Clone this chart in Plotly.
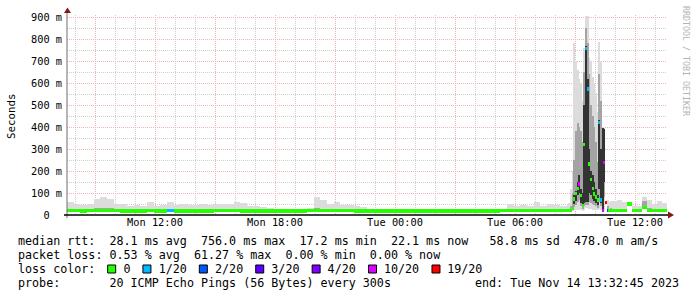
import plotly.graph_objects as go

# ---------------- data ----------------
# time axis in hours since Mon Nov 13 2023 00:00
t_start, t_end = 7.6, 37.6
tick_hours = [9, 12, 15, 18, 21, 24, 27, 30, 33, 36]
tick_labels = ["", "Mon 12:00", "", "Mon 18:00", "", "Tue 00:00", "", "Tue 06:00", "", "Tue 12:00"]
y_ticks = [0, 100, 200, 300, 400, 500, 600, 700, 800, 900]
y_labels = ["0\u00a0\u00a0", "100 m", "200 m", "300 m", "400 m", "500 m", "600 m", "700 m", "800 m", "900 m"]
y_title = "Seconds"

# baseline: 20-minute bins from Mon 07:36 to Tue 08:36 (values in ms)
base_median = [19, 19, 18, 19, 20, 20, 19, 19, 18, 18, 18, 18, 19, 18, 18, 19, 18, 18, 18, 18,
               18, 18, 19, 19, 19, 19, 18, 18, 18, 18, 18, 18, 18, 18, 18, 18, 19, 21, 20, 19,
               19, 19, 19, 18, 18, 18, 18, 18, 18, 18, 18, 18, 18, 18, 18, 18, 18, 18, 18, 18,
               18, 18, 18, 18, 18, 19, 19, 19, 19, 19, 19, 19, 19, 19, 19]
base_q3 = [27, 26, 25, 26, 31, 33, 30, 26, 25, 24, 24, 24, 26, 24, 24, 28, 24, 25, 24, 24,
           25, 24, 26, 26, 26, 28, 28, 24, 23, 22, 21, 20, 20, 20, 20, 20, 22, 31, 28, 26,
           26, 24, 24, 22, 21, 20, 20, 20, 20, 20, 20, 20, 20, 20, 20, 20, 20, 20, 20, 20,
           20, 20, 20, 20, 20, 21, 24, 23, 24, 23, 26, 23, 24, 24, 23]
base_hi = [58, 50, 46, 52, 75, 82, 74, 52, 50, 42, 44, 40, 58, 42, 44, 58, 46, 50, 46, 44,
           50, 46, 52, 50, 52, 58, 56, 42, 40, 38, 34, 28, 27, 27, 29, 27, 32, 82, 66, 52,
           58, 47, 45, 40, 36, 27, 25, 27, 24, 26, 24, 23, 24, 26, 23, 24, 23, 24, 26, 23,
           23, 28, 24, 23, 26, 28, 48, 42, 46, 42, 58, 42, 48, 45, 42]
base_loss = [0] * 15 + [1] + [0] * 59

# disturbance: 5-minute steps from Tue 08:36 to Tue 10:51
spike_lo = [17, 17, 17, 18, 20, 22, 24, 24, 22, 20, 25, 30, 30, 28, 26, 25, 24, 23, 22, 28,
            25, 18, 20, 50, 17, 17, 17]
spike_q1 = [18, 18, 19, 22, 35, 45, 60, 70, 40, 28, 40, 45, 45, 60, 55, 50, 45, 40, 32, 60,
            40, 19, 80, 52, 18, 18, 18]
spike_core_lo = [18, 19, 20, 25, 50, 65, 90, 100, 55, 35, 55, 60, 60, 100, 90, 75, 65, 55, 45, 120,
                 55, 20, 150, 54, 19, 19, 19]
spike_core_hi = [20, 21, 24, 35, 90, 110, 150, 180, 120, 100, 500, 770, 620, 300, 200, 180, 150, 120, 90, 430,
                 300, 395, 390, 58, 24, 21, 21]
spike_q3 = [26, 28, 40, 100, 250, 380, 420, 400, 380, 330, 650, 850, 780, 640, 500, 450, 400, 330, 240, 640,
            520, 395, 390, 60, 40, 28, 30]
spike_hi = [50, 55, 120, 200, 780, 700, 660, 620, 600, 520, 760, 905, 905, 714, 700, 627, 600, 554, 470, 786,
            700, 400, 395, 62, 68, 60, 62]
spike_median = [19, 20, 22, 30, 73, 98, 120, 141, 90, 42, 320, 756, 573, 232, 160, 122, 95, 82, 68, 420,
                68, 20, 238, 56, 20, 21, 20]
spike_loss = [0, 0, 0, 0, 0, 0, 0, 10, 0, 0, 0, 1, 1, 0, 0, 0, 0, 0, 0, 1,
              1, 10, 10, 19, 2, 0, 0]

# tail: 15-minute bins from Tue 10:51 to Tue 13:36
tail_median = [20, 20, 20, 50, 20, 19, 35, 20, 20, 20, 20]
tail_q3 = [27, 28, 26, 55, 24, 23, 62, 30, 25, 27, 25]
tail_hi = [62, 66, 58, 58, 42, 40, 83, 66, 52, 64, 56]
tail_loss = [0] * 11

loss_levels = ["0", "1/20", "2/20", "3/20", "4/20", "10/20", "19/20"]
loss_values = [0, 1, 2, 3, 4, 10, 19]
loss_colors = ["#26ff00", "#00b8ff", "#0059ff", "#5e00ff", "#7e00ff", "#dd00ff", "#ff0000"]

stats_rows = [
    "median rtt:  28.1 ms avg  756.0 ms max  17.2 ms min  22.1 ms now   58.8 ms sd  478.0 m am/s",
    "packet loss: 0.53 % avg  61.27 % max  0.00 % min  0.00 % now",
]
probe_text = "probe:       20 ICMP Echo Pings (56 Bytes) every 300s"
end_text = "end: Tue Nov 14 13:32:45 2023"

# ---------------- assemble bins ----------------
nb, ns, nt = len(base_median), len(spike_median), len(tail_median)
w_b, w_s, w_t = 1 / 3, 1 / 12, 1 / 4
t_b0 = t_start
t_s0 = t_b0 + nb * w_b
t_t0 = t_s0 + ns * w_s
centers = ([t_b0 + (k + 0.5) * w_b for k in range(nb)] +
           [t_s0 + (k + 0.5) * w_s for k in range(ns)] +
           [t_t0 + (k + 0.5) * w_t for k in range(nt)])
widths = [w_b] * nb + [w_s] * ns + [w_t] * nt

median = base_median + spike_median + tail_median
lo = base_median + spike_lo + tail_median
q1 = base_median + spike_q1 + tail_median
core_lo = base_median + spike_core_lo + tail_median
core_hi = base_median + spike_core_hi + tail_median
q3 = base_q3 + spike_q3 + tail_q3
hi = base_hi + spike_hi + tail_hi
loss = base_loss + spike_loss + tail_loss
color_of = dict(zip(loss_values, loss_colors))

fig = go.Figure()


def band(bottom, top, color):
    fig.add_trace(go.Bar(
        x=centers, base=bottom, y=[b - a for a, b in zip(bottom, top)], width=widths,
        marker=dict(color=color, line=dict(width=0)), hoverinfo="skip"))


band(lo, hi, "#dcdcdc")
band(q1, q3, "#a4a4a4")
band(core_lo, core_hi, "#333333")

half = 7.5
fig.add_trace(go.Bar(
    x=centers, base=[m - half for m in median], y=[2 * half] * len(median), width=widths,
    marker=dict(color=[color_of[v] for v in loss], line=dict(width=0)), hoverinfo="skip"))

# ---------------- layout ----------------
L, R, T, B = 67, 30, 15, 82
W, H = 697, 297
pw, ph = W - L - R, H - T - B
y_max = 900 * ph / 198.0

major_grid = "rgb(238,180,180)"
minor_grid = "rgb(208,208,208)"
mono = "DejaVu Sans Mono"

fig.update_layout(
    width=W, height=H, margin=dict(l=L, r=R, t=T, b=B, pad=0),
    paper_bgcolor="white", plot_bgcolor="white",
    barmode="overlay", bargap=0, showlegend=False,
    font=dict(family=mono, size=10.3, color="black"),
)
fig.update_xaxes(
    range=[t_start, t_end], tickmode="array", tickvals=tick_hours, ticktext=tick_labels,
    showgrid=True, gridcolor=major_grid, griddash="1px,1px", gridwidth=1,
    ticks="", zeroline=False, showline=False, tickfont=dict(size=10.3),
    minor=dict(dtick=1, tick0=0, showgrid=True, gridcolor=minor_grid, griddash="1px,1px", ticks=""),
)
fig.update_yaxes(
    range=[0, y_max], tickmode="array", tickvals=y_ticks, ticktext=y_labels,
    showgrid=True, gridcolor=major_grid, griddash="1px,1px", gridwidth=1,
    ticks="", zeroline=False, showline=False, tickfont=dict(size=10.3),
    ticklabelstandoff=4,
    minor=dict(dtick=50, tick0=0, showgrid=True, gridcolor=minor_grid, griddash="1px,1px", ticks=""),
)


def px(xp):
    return (xp - L) / pw


def py(yp):
    return (H - B - yp) / ph


shapes = [
    dict(type="line", xref="paper", yref="paper", x0=px(67), x1=px(67), y0=py(218), y1=py(10),
         line=dict(color="#6e6e6e", width=1)),
    dict(type="line", xref="paper", yref="paper", x0=px(64), x1=px(669), y0=py(215), y1=py(215),
         line=dict(color="black", width=1.5)),
    dict(type="path", xref="paper", yref="paper",
         path=f"M {px(67.5)} {py(7.5)} L {px(64)} {py(13)} L {px(71)} {py(13)} Z",
         fillcolor="#8b1414", line=dict(width=0)),
    dict(type="path", xref="paper", yref="paper",
         path=f"M {px(674)} {py(215)} L {px(668)} {py(211.5)} L {px(668)} {py(218.5)} Z",
         fillcolor="#8b1414", line=dict(width=0)),
]

# legend
charw = 7.05
text_x0 = 16
fsize = 11.7
annotations = []
row_y = [241, 255, 269, 283]
for r, txt in enumerate(stats_rows):
    annotations.append(dict(text=txt.replace(" ", "\u00a0"), x=px(text_x0), y=py(row_y[r]),
                            xref="paper", yref="paper",
                            xanchor="left", yanchor="middle", showarrow=False,
                            font=dict(family=mono, size=fsize, color="black")))

# loss colour row
row = "loss color:  "
box_cols = []
for lab in loss_levels:
    box_cols.append(len(row))
    row += "  " + lab + "  "
annotations.append(dict(text=row.rstrip().replace(" ", "\u00a0"), x=px(text_x0), y=py(row_y[2]),
                        xref="paper", yref="paper", xanchor="left", yanchor="middle", showarrow=False,
                        font=dict(family=mono, size=fsize, color="black")))
for col, c in zip(box_cols, loss_colors):
    cx = text_x0 + col * charw + charw / 2 + 0.5
    shapes.append(dict(type="rect", xref="paper", yref="paper",
                       x0=px(cx - 4), x1=px(cx + 4), y0=py(row_y[2] + 4), y1=py(row_y[2] - 4),
                       fillcolor=c, line=dict(color="black", width=1)))

annotations.append(dict(text=probe_text.replace(" ", "\u00a0"), x=px(text_x0), y=py(row_y[3]),
                        xref="paper", yref="paper", xanchor="left", yanchor="middle", showarrow=False,
                        font=dict(family=mono, size=fsize, color="black")))
annotations.append(dict(text=end_text, x=px(681), y=py(row_y[3]),
                        xref="paper", yref="paper", xanchor="right", yanchor="middle", showarrow=False,
                        font=dict(family=mono, size=fsize, color="black")))
annotations.append(dict(text="RRDTOOL / TOBI OETIKER", x=px(686), y=py(4), xref="paper", yref="paper",
                        xanchor="center", yanchor="top", textangle=90, showarrow=False,
                        font=dict(family=mono, size=8.3, color="#b4b4b4")))
annotations.append(dict(text=y_title, x=px(11), y=py(116), xref="paper", yref="paper",
                        xanchor="center", yanchor="middle", textangle=-90, showarrow=False,
                        font=dict(family=mono, size=10.8, color="black")))

fig.update_layout(shapes=shapes, annotations=annotations)
fig.write_html("out.html")
